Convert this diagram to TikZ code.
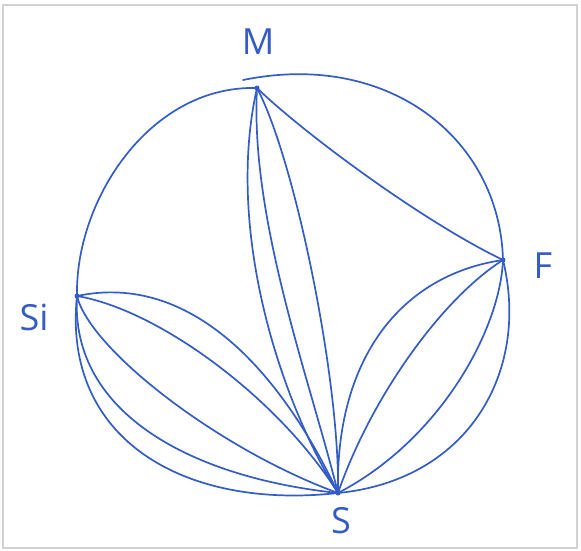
\documentclass[tikz,border=0pt]{standalone}
\usepackage{fontspec}
\setmainfont{Open Sans}
\definecolor{ink}{RGB}{52,92,198}
\begin{document}
\begin{tikzpicture}[x=1pt,y=-1pt,
  edge/.style={draw=ink,line width=1.7pt,line cap=round},
  vtx/.style={circle,fill=ink,inner sep=0pt,minimum size=5pt},
  lbl/.style={text=ink,font=\fontsize{36}{36}\selectfont,inner sep=0pt}]
\useasboundingbox (0,0) rectangle (581,551);
\draw[gray!35,line width=1.2pt] (3,5) rectangle (577,548);
% vertices
\node[vtx] (M) at (257,88) {};
\node[vtx] (F) at (503,260) {};
\node[vtx] (Si) at (77,296) {};
\node[vtx] (S) at (338,493) {};
\coordinate (Mtop) at (243,80);
% labels
\node[lbl] (lM) at (258,42) {M};
\node[lbl] (lF) at (543,266) {F};
\node[lbl] (lSi) at (34,317) {Si};
\node[lbl] (lS) at (341,521) {S};
% outer circle
\draw[edge] (M.center) .. controls (150,85) and (75,200) .. (Si.center);
\draw[edge] (Si.center) .. controls (62,440) and (185,510) .. (S.center);
\draw[edge] (S.center) .. controls (470,480) and (530,370) .. (F.center);
\draw[edge] (F.center) .. controls (500,140) and (390,50) .. (Mtop);
% M-F
\draw[edge] (M.center) .. controls (300,130) and (420,220) .. (F.center);
% M-S
\draw[edge] (M.center) .. controls (225,230) and (280,400) .. (S.center);
\draw[edge] (M.center) .. controls (250,220) and (310,380) .. (S.center);
\draw[edge] (M.center) .. controls (295,160) and (340,380) .. (S.center);
% Si-S
\draw[edge] (Si.center) .. controls (190,272) and (280,370) .. (S.center);
\draw[edge] (Si.center) .. controls (160,310) and (280,400) .. (S.center);
\draw[edge] (Si.center) .. controls (90,350) and (220,450) .. (S.center);
\draw[edge] (Si.center) .. controls (70,415) and (195,478) .. (S.center);
% F-S
\draw[edge] (F.center) .. controls (400,275) and (335,360) .. (S.center);
\draw[edge] (F.center) .. controls (440,300) and (370,400) .. (S.center);
\draw[edge] (F.center) .. controls (500,330) and (440,440) .. (S.center);
\end{tikzpicture}
\end{document}
